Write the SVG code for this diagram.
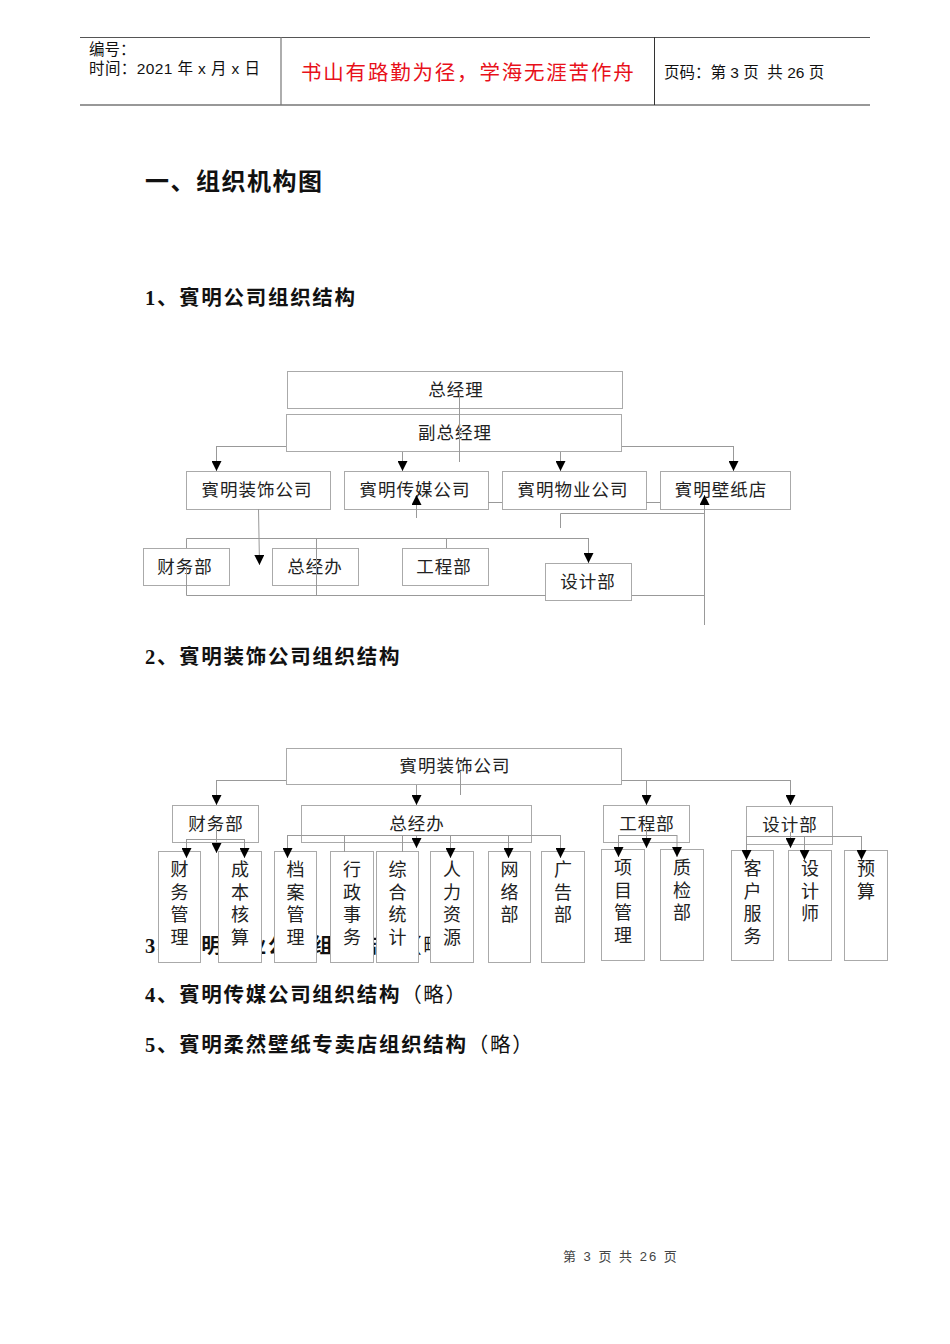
<svg xmlns="http://www.w3.org/2000/svg" width="950" height="1344" viewBox="0 0 950 1344">
<style>
.hd{font-family:"Liberation Sans","Noto Sans CJK SC",sans-serif;font-size:15.5px;fill:#111}
.hd2{letter-spacing:0.4px}
.motto{font-family:"Noto Sans CJK SC",sans-serif;font-size:20.5px;fill:#e8101a;letter-spacing:1.8px}
.h1{font-family:"Liberation Serif","Noto Sans CJK SC",sans-serif;font-size:24px;font-weight:bold;fill:#111;letter-spacing:1.5px}
.h2{font-family:"Liberation Serif","Noto Sans CJK SC",sans-serif;font-size:20.5px;font-weight:bold;fill:#111;letter-spacing:1.7px}
.lue{font-weight:normal}
.box{fill:#fff;stroke:#aaa;stroke-width:1}
.lb{font-family:"Noto Sans CJK SC",sans-serif;font-size:17.5px;fill:#222;text-anchor:middle;letter-spacing:1px}
.vt{font-family:"Noto Sans CJK SC",sans-serif;font-size:18px;fill:#222;text-anchor:middle}
.ln{stroke:#999;stroke-width:1;fill:none}
.ar{stroke:#999;stroke-width:1;fill:none;marker-end:url(#ah)}
.ft{font-family:"Liberation Sans","Noto Sans CJK SC",sans-serif;font-size:13px;fill:#444;letter-spacing:2px}
</style>
<defs>
<marker id="ah" viewBox="0 0 10 10" refX="10" refY="5" markerWidth="10" markerHeight="10" markerUnits="userSpaceOnUse" orient="auto">
<path d="M0,0 L10,5 L0,10 z" fill="#000"/>
</marker>
</defs>
<rect x="0" y="0" width="950" height="1344" fill="#fff"/>

<g id="header">
<line x1="80" y1="37.5" x2="870" y2="37.5" stroke="#555" stroke-width="1.2"/>
<line x1="80" y1="105" x2="870" y2="105" stroke="#333" stroke-width="1.2"/>
<line x1="281" y1="37" x2="281" y2="105" stroke="#777" stroke-width="1.2"/>
<line x1="654.5" y1="37" x2="654.5" y2="105" stroke="#333" stroke-width="1"/>
<text class="hd" x="89" y="55">编号：</text>
<text class="hd hd2" x="89" y="74" xml:space="preserve">时间：2021 年 x 月 x 日</text>
<text class="motto" x="301" y="80">书山有路勤为径，学海无涯苦作舟</text>
<text class="hd" x="664" y="78" xml:space="preserve">页码：第 3 页  共 26 页</text>
</g>

<g id="headings">
<text class="h1" x="145" y="190">一、组织机构图</text>
<text class="h2" x="145" y="305">1、賓明公司组织结构</text>
<text class="h2" x="145" y="664">2、賓明装饰公司组织结构</text>
<text class="h2" x="145" y="953">3、賓明物业公司组织结构<tspan class="lue">（略）</tspan></text>
<text class="h2" x="145" y="1002">4、賓明传媒公司组织结构<tspan class="lue">（略）</tspan></text>
<text class="h2" x="145" y="1052">5、賓明柔然壁纸专卖店组织结构<tspan class="lue">（略）</tspan></text>
</g>

<!-- Chart 1 -->
<g id="c1-zjl"><rect class="box" x="287.5" y="371.5" width="335" height="37"/><text class="lb" x="456" y="396">总经理</text></g>
<g id="c1-fzjl"><rect class="box" x="286.5" y="414.5" width="335" height="37"/><text class="lb" x="455" y="439">副总经理</text></g>
<g id="c1-zs"><rect class="box" x="186.5" y="471.5" width="144" height="38"/><text class="lb" x="257" y="496">賓明装饰公司</text></g>
<g id="c1-cm"><rect class="box" x="344.5" y="471.5" width="144" height="38"/><text class="lb" x="415" y="496">賓明传媒公司</text></g>
<g id="c1-wy"><rect class="box" x="502.5" y="471.5" width="144" height="38"/><text class="lb" x="573" y="496">賓明物业公司</text></g>
<g id="c1-bz"><rect class="box" x="660.5" y="471.5" width="130" height="38"/><text class="lb" x="721" y="496">賓明壁纸店</text></g>
<g id="c1-cw"><rect class="box" x="143.5" y="548.5" width="86" height="37"/><text class="lb" x="185" y="573">财务部</text></g>
<g id="c1-zjb"><rect class="box" x="272.5" y="548.5" width="86" height="37"/><text class="lb" x="315" y="573">总经办</text></g>
<g id="c1-gc"><rect class="box" x="402.5" y="548.5" width="86" height="37"/><text class="lb" x="444" y="573">工程部</text></g>
<g id="c1-sj"><rect class="box" x="545.5" y="563.5" width="86" height="37"/><text class="lb" x="588" y="588">设计部</text></g>

<!-- Chart 2 -->
<g id="c2-zs"><rect class="box" x="286.5" y="748.5" width="335" height="36"/><text class="lb" x="455" y="772">賓明装饰公司</text></g>
<g id="c2-cw"><rect class="box" x="172.5" y="805.5" width="86" height="37"/><text class="lb" x="216" y="830">财务部</text></g>
<g id="c2-zjb"><rect class="box" x="301.5" y="805.5" width="230" height="37"/><text class="lb" x="417" y="830">总经办</text></g>
<g id="c2-gc"><rect class="box" x="603.5" y="805.5" width="86" height="37"/><text class="lb" x="647" y="830">工程部</text></g>
<g id="c2-sj"><rect class="box" x="746.5" y="806.5" width="86" height="38"/><text class="lb" x="790" y="831">设计部</text></g>

<g id="c2-cwgl"><rect class="box" x="158.5" y="851.5" width="42" height="111"/><text class="vt" x="179.5"><tspan x="179.5" y="876">财</tspan><tspan x="179.5" y="898.5">务</tspan><tspan x="179.5" y="921">管</tspan><tspan x="179.5" y="943.5">理</tspan></text></g>
<g id="c2-cbhs"><rect class="box" x="218.5" y="851.5" width="43" height="111"/><text class="vt" x="240"><tspan x="240" y="876">成</tspan><tspan x="240" y="898.5">本</tspan><tspan x="240" y="921">核</tspan><tspan x="240" y="943.5">算</tspan></text></g>
<g id="c2-dagl"><rect class="box" x="274.5" y="851.5" width="42" height="111"/><text class="vt" x="295.5"><tspan x="295.5" y="876">档</tspan><tspan x="295.5" y="898.5">案</tspan><tspan x="295.5" y="921">管</tspan><tspan x="295.5" y="943.5">理</tspan></text></g>
<g id="c2-xzsw"><rect class="box" x="330.5" y="851.5" width="43" height="111"/><text class="vt" x="352"><tspan x="352" y="876">行</tspan><tspan x="352" y="898.5">政</tspan><tspan x="352" y="921">事</tspan><tspan x="352" y="943.5">务</tspan></text></g>
<g id="c2-zhtj"><rect class="box" x="376.5" y="851.5" width="42" height="111"/><text class="vt" x="397.5"><tspan x="397.5" y="876">综</tspan><tspan x="397.5" y="898.5">合</tspan><tspan x="397.5" y="921">统</tspan><tspan x="397.5" y="943.5">计</tspan></text></g>
<g id="c2-rlzy"><rect class="box" x="430.5" y="851.5" width="43" height="111"/><text class="vt" x="452"><tspan x="452" y="876">人</tspan><tspan x="452" y="898.5">力</tspan><tspan x="452" y="921">资</tspan><tspan x="452" y="943.5">源</tspan></text></g>
<g id="c2-wlb"><rect class="box" x="488.5" y="851.5" width="42" height="111"/><text class="vt" x="509.5"><tspan x="509.5" y="876">网</tspan><tspan x="509.5" y="898.5">络</tspan><tspan x="509.5" y="921">部</tspan></text></g>
<g id="c2-ggb"><rect class="box" x="541.5" y="851.5" width="43" height="111"/><text class="vt" x="563"><tspan x="563" y="876">广</tspan><tspan x="563" y="898.5">告</tspan><tspan x="563" y="921">部</tspan></text></g>
<g id="c2-xmgl"><rect class="box" x="601.5" y="849.5" width="43" height="111"/><text class="vt" x="623"><tspan x="623" y="874">项</tspan><tspan x="623" y="896.5">目</tspan><tspan x="623" y="919">管</tspan><tspan x="623" y="941.5">理</tspan></text></g>
<g id="c2-zjbu"><rect class="box" x="660.5" y="849.5" width="43" height="111"/><text class="vt" x="682"><tspan x="682" y="874">质</tspan><tspan x="682" y="896.5">检</tspan><tspan x="682" y="919">部</tspan></text></g>
<g id="c2-khfw"><rect class="box" x="731.5" y="850.5" width="42" height="110"/><text class="vt" x="752.5"><tspan x="752.5" y="875">客</tspan><tspan x="752.5" y="897.5">户</tspan><tspan x="752.5" y="920">服</tspan><tspan x="752.5" y="942.5">务</tspan></text></g>
<g id="c2-sjs"><rect class="box" x="788.5" y="850.5" width="43" height="110"/><text class="vt" x="810"><tspan x="810" y="875">设</tspan><tspan x="810" y="897.5">计</tspan><tspan x="810" y="920">师</tspan></text></g>
<g id="c2-ys"><rect class="box" x="844.5" y="850.5" width="43" height="110"/><text class="vt" x="866"><tspan x="866" y="875">预</tspan><tspan x="866" y="897.5">算</tspan></text></g>

<g id="connectors">
<line class="ln" x1="459.5" y1="393" x2="459.5" y2="462"/>
<polyline class="ln" points="286,446.5 216.5,446.5"/>
<line class="ar" x1="216.5" y1="446" x2="216.5" y2="471"/>
<line class="ar" x1="402.5" y1="452" x2="402.5" y2="471"/>
<line class="ar" x1="560.5" y1="452" x2="560.5" y2="471"/>
<polyline class="ln" points="622,446.5 733.5,446.5"/>
<line class="ar" x1="733.5" y1="446" x2="733.5" y2="471"/>
<line class="ln" x1="488" y1="502.5" x2="502" y2="502.5"/>
<line class="ln" x1="646" y1="502.5" x2="660" y2="502.5"/>
<line class="ar" x1="416.5" y1="518" x2="416.5" y2="495"/>
<line class="ar" x1="704.5" y1="625" x2="704.5" y2="495"/>
<polyline class="ln" points="560.5,528 560.5,513.5 704.5,513.5"/>
<line class="ar" x1="258.5" y1="509" x2="259.5" y2="565"/>
<polyline class="ln" points="186.5,548 186.5,538.5 588.5,538.5"/>
<line class="ar" x1="588.5" y1="538" x2="588.5" y2="563"/>
<line class="ln" x1="316.5" y1="538" x2="316.5" y2="595"/>
<line class="ln" x1="446.5" y1="538" x2="446.5" y2="548"/>
<polyline class="ln" points="186.5,567 186.5,595.5 545.5,595.5"/>
<line class="ln" x1="632" y1="595.5" x2="704.5" y2="595.5"/>
<line class="ln" x1="460.5" y1="772" x2="460.5" y2="795"/>
<line class="ln" x1="216.5" y1="780.5" x2="286" y2="780.5"/>
<line class="ln" x1="622" y1="780.5" x2="790.5" y2="780.5"/>
<line class="ar" x1="216.5" y1="780" x2="216.5" y2="805"/>
<line class="ar" x1="416.5" y1="785" x2="416.5" y2="805"/>
<line class="ar" x1="646.5" y1="780" x2="646.5" y2="805"/>
<line class="ar" x1="790.5" y1="780" x2="790.5" y2="805"/>
<line class="ln" x1="186.5" y1="839.5" x2="244.5" y2="839.5"/>
<line class="ar" x1="186.5" y1="839" x2="186.5" y2="858"/>
<line class="ar" x1="244.5" y1="839" x2="244.5" y2="858"/>
<line class="ar" x1="216.5" y1="826" x2="216.5" y2="853"/>
<line class="ln" x1="287.5" y1="835.5" x2="560.5" y2="835.5"/>
<line class="ar" x1="287.5" y1="835" x2="287.5" y2="858"/>
<line class="ln" x1="344.5" y1="835" x2="344.5" y2="852"/>
<line class="ln" x1="402.5" y1="835" x2="402.5" y2="852"/>
<line class="ar" x1="416.5" y1="836" x2="416.5" y2="848"/>
<line class="ar" x1="450.5" y1="835" x2="450.5" y2="858"/>
<line class="ar" x1="508.5" y1="835" x2="508.5" y2="858"/>
<line class="ar" x1="560.5" y1="835" x2="560.5" y2="858"/>
<line class="ln" x1="618.5" y1="835.5" x2="677" y2="835.5"/>
<line class="ar" x1="618.5" y1="835" x2="618.5" y2="857"/>
<line class="ar" x1="677" y1="835" x2="677" y2="857"/>
<line class="ar" x1="646.5" y1="828" x2="646.5" y2="848"/>
<line class="ln" x1="746.5" y1="836.5" x2="861.5" y2="836.5"/>
<line class="ar" x1="746.5" y1="836" x2="746.5" y2="860"/>
<line class="ar" x1="804.5" y1="836" x2="804.5" y2="860"/>
<line class="ar" x1="861.5" y1="836" x2="861.5" y2="860"/>
<line class="ar" x1="790.5" y1="832" x2="790.5" y2="848"/>
</g>

<text class="ft" x="563" y="1261">第 3 页 共 26 页</text>
</svg>
